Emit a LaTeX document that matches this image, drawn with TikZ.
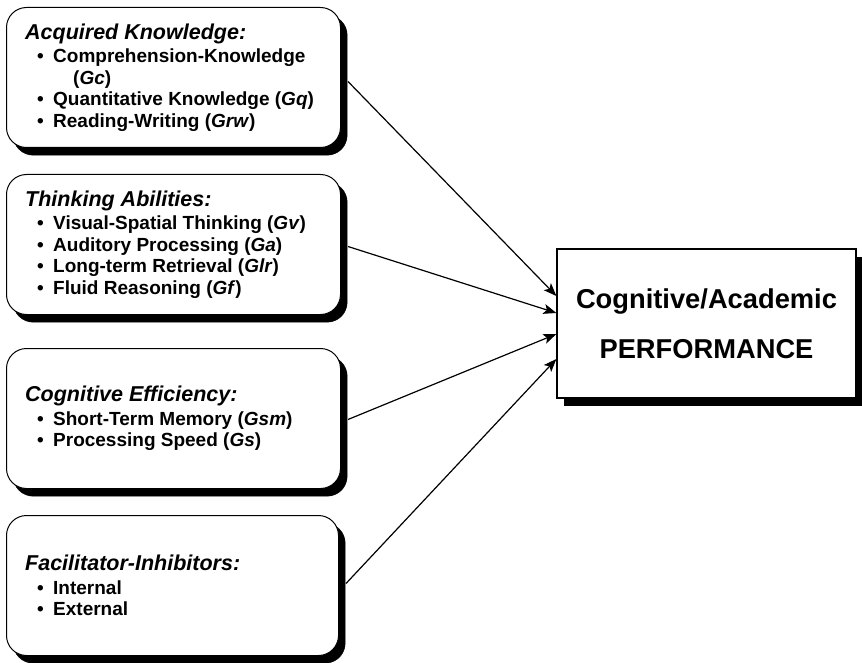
\documentclass[tikz,border=0pt]{standalone}
\usepackage{fontspec}
\setmainfont{Liberation Sans}
\usetikzlibrary{arrows.meta}

\tikzset{
  factorbox/.style={draw=black, line width=1pt, fill=white, rounded corners=20pt,
    minimum width=334pt, minimum height=140pt, anchor=north west, inner sep=0pt},
  factorshadow/.style={fill=black, draw=black, rounded corners=20pt,
    minimum width=334pt, minimum height=140pt, anchor=north west, inner sep=0pt},
  factortext/.style={anchor=west, align=left, inner sep=0pt,
    font=\fontsize{19}{21.5}\selectfont\bfseries},
  outbox/.style={draw=black, line width=1.2pt, fill=white,
    minimum width=299pt, minimum height=149pt, inner sep=0pt},
  outshadow/.style={fill=black, minimum width=299pt, minimum height=149pt, inner sep=0pt},
  outtext/.style={align=center, inner sep=0pt,
    font=\fontsize{27.3}{50}\selectfont\bfseries},
  link/.style={line width=1.2pt, -{Stealth[length=13pt, width=10pt, inset=3pt]}},
}

% heading and bullet lines inside the factor boxes
\newcommand{\grouphead}[1]{{\fontsize{21.5}{21.5}\selectfont\itshape #1}\\[2pt]}
\newcommand{\bul}{\makebox[28pt][l]{\hspace{12pt}\textbullet}}
\newcommand{\contline}{\hspace{48pt}}

\begin{document}
\begin{tikzpicture}[x=1pt, y=-1pt]
  \useasboundingbox (0,0) rectangle (862,663);

  % shadows of the four factor boxes
  \node[factorshadow] (s1) at (13,15)  {};
  \node[factorshadow] (s2) at (13,182) {};
  \node[factorshadow] (s3) at (13,356) {};
  \node[factorshadow, minimum width=332pt] (s4) at (13,523) {};

  % factor boxes
  \node[factorbox] (b1) at (6,7)   {};
  \node[factorbox] (b2) at (6,174) {};
  \node[factorbox] (b3) at (6,348) {};
  \node[factorbox, minimum width=332pt] (b4) at (6,515) {};

  \node[factortext] (t1) at ([xshift=19pt]b1.west) {%
    \grouphead{Acquired Knowledge:}
    \bul Comprehension-Knowledge\\
    \contline(\textit{Gc})\\
    \bul Quantitative Knowledge (\textit{Gq})\\
    \bul Reading-Writing (\textit{Grw})};

  \node[factortext] (t2) at ([xshift=19pt]b2.west) {%
    \grouphead{Thinking Abilities:}
    \bul Visual-Spatial Thinking (\textit{Gv})\\
    \bul Auditory Processing (\textit{Ga})\\
    \bul Long-term Retrieval (\textit{Glr})\\
    \bul Fluid Reasoning (\textit{Gf})};

  \node[factortext] (t3) at ([xshift=19pt]b3.west) {%
    \grouphead{Cognitive Efficiency:}
    \bul Short-Term Memory (\textit{Gsm})\\
    \bul Processing Speed (\textit{Gs})};

  \node[factortext] (t4) at ([xshift=19pt]b4.west) {%
    \grouphead{Facilitator-Inhibitors:}
    \bul Internal\\
    \bul External};

  % outcome box
  \node[outshadow] (ps) at (713,331.5) {};
  \node[outbox] (pf) at (706.5,323.5) {};
  \node[outtext] (pt) at (pf.center) {Cognitive/Academic\\PERFORMANCE};

  % influences
  \draw[link] ([xshift=7pt, yshift=-4pt]b1.east) -- ([yshift=27.5pt]pf.west);
  \draw[link] ([xshift=7pt, yshift=-2pt]b2.east) -- ([yshift=10.5pt]pf.west);
  \draw[link] ([xshift=7pt, yshift=-1pt]b3.east) -- ([yshift=-10.5pt]pf.west);
  \draw[link] ([xshift=7pt, yshift=2pt]b4.east) -- ([yshift=-35.5pt]pf.west);
\end{tikzpicture}
\end{document}
